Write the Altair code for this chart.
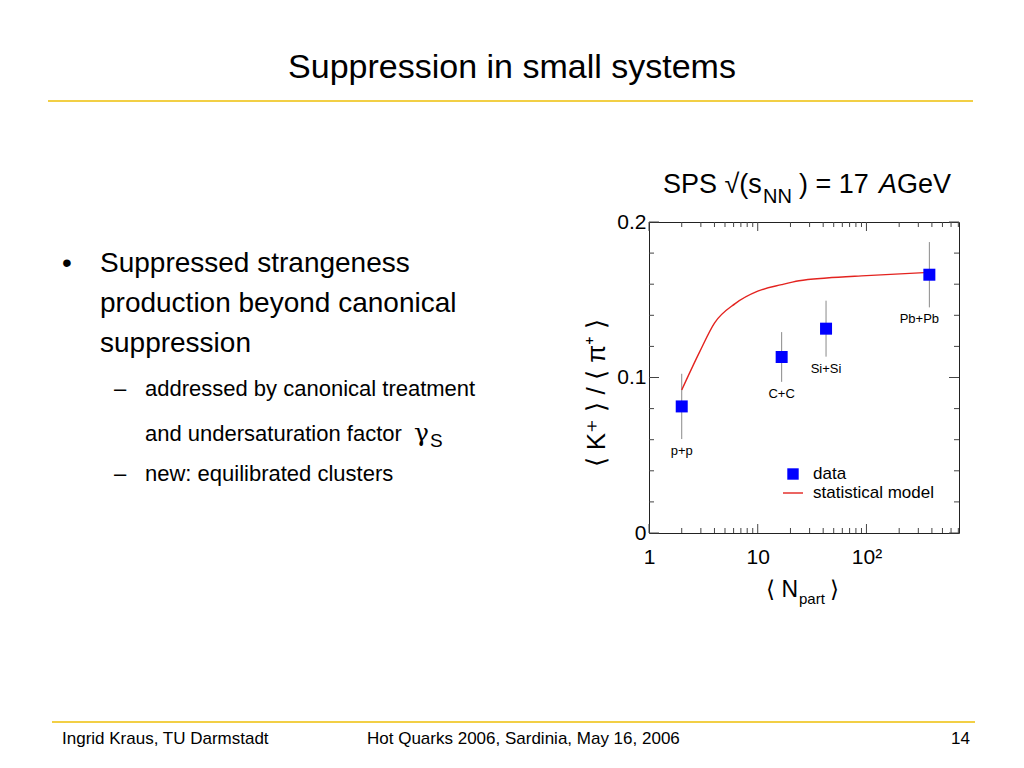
import altair as alt
import pandas as pd

# ---------------- data ----------------
systems = ["p+p", "C+C", "Si+Si", "Pb+Pb"]
npart = [2.0, 16.6, 42.5, 379.0]
ratio = [0.0814, 0.1132, 0.1314, 0.1661]
ratio_err = [0.021, 0.016, 0.018, 0.021]

model_npart = [2.0, 2.9, 4.0, 6.2, 10.0, 16.6, 24.0, 43.0, 100.0, 380.0]
model_ratio = [0.092, 0.116, 0.135, 0.1475, 0.1555, 0.1597, 0.1622, 0.164, 0.1655, 0.1676]

x_major_ticks = [1, 10, 100]
x_minor_ticks = [2, 3, 4, 5, 6, 7, 8, 9, 20, 30, 40, 50, 60, 70, 80, 90,
                 200, 300, 400, 500, 600, 700]
y_major_ticks = [0.0, 0.1, 0.2]
y_minor_ticks = [0.02, 0.04, 0.06, 0.08, 0.12, 0.14, 0.16, 0.18]

# ---------------- layout ----------------
FONT = "Liberation Sans"
PW, PH = 310, 311          # plot frame size
OX, OY = 649, 222          # page position of the plot frame's top-left corner
YELLOW = "#f2cf45"

df = pd.DataFrame({"sys": systems, "N": npart, "R": ratio, "E": ratio_err})
model_df = pd.DataFrame({"N": model_npart, "R": model_ratio})
one = pd.DataFrame({"k": [0]})

xscale = alt.Scale(type="log", domain=[1, 710], nice=False)
yscale = alt.Scale(domain=[0, 0.2], nice=False, zero=False)

xaxis = alt.Axis(values=x_major_ticks,
                 labelExpr="datum.value > 50 ? '10²' : (datum.value > 5 ? '10' : '1')",
                 ticks=False, domain=False, grid=False, labelFontSize=21, labelFont=FONT,
                 labelColor="black", labelPadding=13, labelFlush=False, labelOverlap=False,
                 title=None)
yaxis = alt.Axis(values=y_major_ticks,
                 labelExpr="datum.value < 0.05 ? '0' : (datum.value < 0.15 ? '0.1' : '0.2')",
                 ticks=False, domain=False, grid=False, labelFontSize=21, labelFont=FONT,
                 labelColor="black", labelPadding=3, labelFlush=False, labelOverlap=False,
                 labelBaseline="middle", title=None)

X = alt.X("N:Q", scale=xscale, axis=xaxis)


def Y(field):
    return alt.Y(field, scale=yscale, axis=yaxis)


def txt(s, px, py, size, align="left", baseline="alphabetic", **kw):
    return alt.Chart(one).mark_text(text=s, align=align, baseline=baseline, fontSize=size,
                                    font=kw.pop("font", FONT), color="black", **kw).encode(
        x=alt.value(px - OX), y=alt.value(py - OY))


def hline(x1, x2, py, color, width):
    return alt.Chart(one).mark_rule(color=color, strokeWidth=width).encode(
        x=alt.value(x1 - OX), x2=alt.value(x2 - OX), y=alt.value(py - OY))


# ---------------- ticks (inside, on all four sides) ----------------
TICK = "#444444"
xmaj = pd.DataFrame({"N": x_major_ticks})
xmin = pd.DataFrame({"N": x_minor_ticks})
ymaj = pd.DataFrame({"R": y_major_ticks})
ymin = pd.DataFrame({"R": y_minor_ticks})

ticks = []
for d, ln in ((xmaj, 9), (xmin, 5)):
    ticks.append(alt.Chart(d).mark_rule(color=TICK, strokeWidth=1).encode(
        x=X, y=alt.value(PH), y2=alt.value(PH - ln)))
    ticks.append(alt.Chart(d).mark_rule(color=TICK, strokeWidth=1).encode(
        x=X, y=alt.value(0), y2=alt.value(ln)))
for d, ln in ((ymaj, 10), (ymin, 5)):
    ticks.append(alt.Chart(d).mark_rule(color=TICK, strokeWidth=1).encode(
        y=Y("R:Q"), x=alt.value(0), x2=alt.value(ln)))
    ticks.append(alt.Chart(d).mark_rule(color=TICK, strokeWidth=1).encode(
        y=Y("R:Q"), x=alt.value(PW), x2=alt.value(PW - ln)))

# ---------------- data marks ----------------
base = alt.Chart(df).transform_calculate(lo="datum.R - datum.E", hi="datum.R + datum.E")

errbars = base.mark_rule(color="#8a8a8a", strokeWidth=1).encode(x=X, y=Y("lo:Q"), y2="hi:Q")
curve = alt.Chart(model_df).mark_line(color="#e3231f", strokeWidth=1.4,
                                      interpolate="monotone").encode(x=X, y=Y("R:Q"))
squares = alt.Chart(df).mark_square(size=144, color="#0000ff", opacity=1).encode(x=X, y=Y("R:Q"))

labels = base.transform_filter("datum.sys != 'Pb+Pb'").mark_text(
    fontSize=13, font=FONT, color="black", baseline="middle", dy=12).encode(
    x=X, y=Y("lo:Q"), text="sys:N")
labels_pb = base.transform_filter("datum.sys == 'Pb+Pb'").mark_text(
    fontSize=13, font=FONT, color="black", baseline="middle", dy=12, dx=-10).encode(
    x=X, y=Y("lo:Q"), text="sys:N")

# ---------------- legend ----------------
legend = [
    alt.Chart(one).mark_square(size=130, color="#0000ff", opacity=1).encode(
        x=alt.value(793 - OX), y=alt.value(474 - OY)),
    hline(783, 803, 493, "#e3231f", 1.4),
    txt("data", 813, 474, 17, baseline="middle"),
    txt("statistical model", 813, 493, 17, baseline="middle"),
]

# ---------------- plot titles ----------------
plot_titles = [
    txt("SPS √(s", 663, 193, 27),
    txt("NN", 763, 203, 20),
    txt(") = 17", 799, 193, 27),
    txt("A", 879, 193, 27, fontStyle="italic"),
    txt("GeV", 897, 193, 27),
    txt("⟨ K⁺ ⟩ / ⟨ π⁺ ⟩", 597, 393, 26, align="center", baseline="middle", angle=270),
    txt("⟨ N", 798, 597, 23, align="right"),
    txt("part", 799, 604, 15),
    txt("⟩", 830, 597, 23),
]

# ---------------- slide text ----------------
slide = [
    txt("Suppression in small systems", 512, 78, 34, align="center"),
    hline(48, 973, 101, YELLOW, 2),
    txt("•", 67, 272, 28, align="center"),
    txt("Suppressed strangeness", 100, 272, 28),
    txt("production beyond canonical", 100, 312, 28),
    txt("suppression", 100, 352, 28),
    txt("–", 120, 396, 22, align="center"),
    txt("addressed by canonical treatment", 145, 396, 22),
    txt("and undersaturation factor", 145, 441, 22),
    txt("γ", 414, 441, 25, font="DejaVu Serif"),
    txt("S", 430, 447, 19),
    txt("–", 120, 481, 22, align="center"),
    txt("new: equilibrated clusters", 145, 481, 22),
    hline(52, 975, 722, YELLOW, 2),
    txt("Ingrid Kraus, TU Darmstadt", 62, 744, 17),
    txt("Hot Quarks 2006, Sardinia, May 16, 2006", 367, 744, 17),
    txt("14", 970, 744, 17, align="right"),
]

chart = alt.layer(
    *ticks, errbars, curve, squares, labels, labels_pb, *legend, *plot_titles, *slide
).properties(
    width=PW, height=PH,
    padding={"left": OX - 8, "top": OY - 8, "right": 45, "bottom": 215},
    autosize=alt.AutoSizeParams(type="none"),
    background="white",
).configure_view(stroke="#222222", strokeWidth=1)

chart.save("out.html", embed_options={"renderer": "svg", "actions": False})
